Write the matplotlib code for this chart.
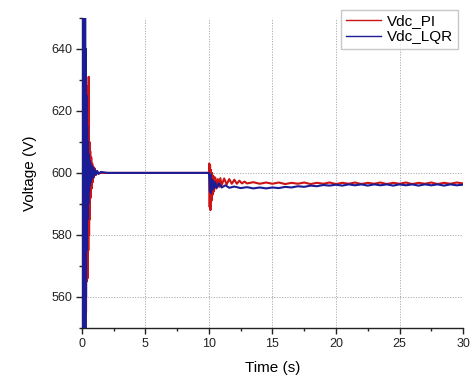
import matplotlib.pyplot as plt
from matplotlib.ticker import MultipleLocator

plt.rcParams['font.family'] = ['Liberation Sans', 'DejaVu Sans']

# Vdc_PI samples (time in s, voltage in V)
t_pi = [0.0, 0.02, 0.04, 0.06, 0.08, 0.10, 0.12, 0.14, 0.16, 0.18, 0.20, 0.22, 0.24, 0.26, 0.28,
        0.30, 0.33, 0.36, 0.39, 0.42, 0.45, 0.48, 0.51, 0.54, 0.57, 0.60, 0.63, 0.66, 0.70, 0.74,
        0.78, 0.82, 0.86, 0.90, 0.95, 1.0, 1.1, 1.2, 1.3, 1.5, 2.0, 5.0, 9.9,
        10.0, 10.03, 10.06, 10.09, 10.12, 10.15, 10.2, 10.25, 10.3, 10.35, 10.4, 10.5, 10.6, 10.7,
        10.8, 10.9, 11.0, 11.2, 11.4, 11.6, 11.8, 12.0, 12.2, 12.4, 12.6, 12.8, 13.0, 13.5,
        14.0, 14.5, 15.0, 15.5, 16.0, 16.5, 17.0, 17.5, 18.0, 18.5, 19.0, 19.5, 20.0, 20.5,
        21.0, 21.5, 22.0, 22.5, 23.0, 23.5, 24.0, 24.5, 25.0, 25.5, 26.0, 26.5, 27.0, 27.5,
        28.0, 28.5, 29.0, 29.5, 30.0]
v_pi = [450, 700, 470, 690, 490, 680, 500, 670, 510, 660, 520, 650, 530, 640, 545,
        630, 555, 625, 565, 620, 566, 628, 575, 631, 580, 610, 585, 607, 592, 605,
        595, 603, 597, 602, 598.5, 601.5, 599.3, 600.6, 599.8, 600, 600, 600, 600,
        600, 603, 589, 602.5, 588, 601, 591, 600, 593, 599, 594, 598.5, 595, 598,
        595.5, 598.3, 596, 598.2, 596.3, 598.0, 596.5, 597.8, 596.5, 597.5, 596.6, 597.2, 596.6, 597.0,
        596.5, 596.9, 596.5, 596.9, 596.4, 596.8, 596.5, 596.9, 596.4, 596.8, 596.5, 596.9, 596.4, 596.8,
        596.5, 596.9, 596.4, 596.8, 596.5, 596.9, 596.4, 596.8, 596.5, 596.9, 596.4, 596.8, 596.5, 596.9,
        596.4, 596.8, 596.5, 596.9, 596.6]

# Vdc_LQR samples
t_lqr = [0.0, 0.02, 0.04, 0.06, 0.08, 0.10, 0.12, 0.14, 0.16, 0.18, 0.20, 0.22, 0.24, 0.26, 0.28,
         0.30, 0.33, 0.36, 0.39, 0.42, 0.45, 0.48, 0.51, 0.54, 0.57, 0.60, 0.63, 0.66, 0.70, 0.74,
         0.78, 0.82, 0.86, 0.90, 0.95, 1.0, 1.1, 1.2, 1.3, 1.5, 2.0, 5.0, 9.9,
         10.0, 10.04, 10.08, 10.12, 10.16, 10.2, 10.25, 10.3, 10.4, 10.5, 10.6, 10.8, 11.0, 11.3,
         11.6, 12.0, 12.5, 13.0, 13.5, 14.0, 14.5, 15.0, 15.5, 16.0, 16.5, 17.0, 17.5, 18.0,
         18.5, 19.0, 19.5, 20.0, 20.5, 21.0, 21.5, 22.0, 22.5, 23.0, 23.5, 24.0, 24.5, 25.0,
         25.5, 26.0, 26.5, 27.0, 27.5, 28.0, 28.5, 29.0, 29.5, 30.0]
v_lqr = [460, 720, 480, 700, 500, 690, 510, 680, 520, 670, 530, 660, 540, 650, 548,
         640, 560, 625, 575, 615, 585, 610, 590, 606, 594, 604, 596, 603, 597, 602.5,
         598, 602, 598.5, 601.5, 599, 601, 599.5, 600.6, 599.7, 600.3, 600, 600, 600,
         600, 598, 594, 599.5, 593.5, 598, 594.5, 597.5, 595, 597, 595.2, 596.6, 595.3, 596.0,
         595.2, 595.6, 595.1, 595.4, 595.0, 595.3, 595.0, 595.3, 595.1, 595.5, 595.3, 595.7, 595.5, 595.9,
         595.7, 596.1, 595.9, 596.2, 595.9, 596.3, 596.0, 596.3, 595.9, 596.3, 596.0, 596.3, 595.9, 596.3,
         596.0, 596.3, 595.9, 596.3, 596.0, 596.3, 595.9, 596.3, 596.0, 596.2]

x_ticks = [0, 5, 10, 15, 20, 25, 30]
y_ticks = [560, 580, 600, 620, 640]
y_grid = [560, 580, 600]

fig = plt.figure(figsize=(4.73, 3.80), dpi=100)
ax = fig.add_axes([0.173, 0.137, 0.806, 0.816])

ax.plot(t_pi, v_pi, color='#cc1414', lw=1.5, label='Vdc_PI', zorder=3)
ax.plot(t_lqr, v_lqr, color='#1c1c96', lw=1.5, label='Vdc_LQR', zorder=3)

ax.set_xlim(0, 30)
ax.set_ylim(550, 650)
ax.set_xticks(x_ticks)
ax.set_yticks(y_ticks)
ax.xaxis.set_minor_locator(MultipleLocator(2.5))
ax.yaxis.set_minor_locator(MultipleLocator(10))

for x in x_ticks[1:-1]:
    ax.axvline(x, color='#aaaaaa', lw=0.7, ls=(0, (1.2, 1.5)), zorder=1)
for y in y_grid:
    ax.axhline(y, color='#aaaaaa', lw=0.7, ls=(0, (1.2, 1.5)), zorder=1)

for s in ['top', 'right']:
    ax.spines[s].set_visible(False)
for s in ['left', 'bottom']:
    ax.spines[s].set_linewidth(1.0)
    ax.spines[s].set_color('#222222')

ax.tick_params(which='major', direction='out', length=4, width=1, labelsize=9, colors='#222222', pad=3)
ax.tick_params(which='minor', direction='out', length=2.5, width=1, colors='#222222')

ax.set_xlabel('Time (s)', fontsize=11, labelpad=8)
ax.set_ylabel('Voltage (V)', fontsize=11, labelpad=10)

leg = fig.legend(loc='upper right', bbox_to_anchor=(0.968, 0.974), fontsize=11, frameon=True,
                 fancybox=False, edgecolor='#bbbbbb', handlelength=2.3, borderaxespad=0,
                 labelspacing=0.1, borderpad=0.3, handletextpad=0.4)
for line in leg.get_lines():
    line.set_linewidth(1.0)

fig.savefig('out.png', dpi=100)
